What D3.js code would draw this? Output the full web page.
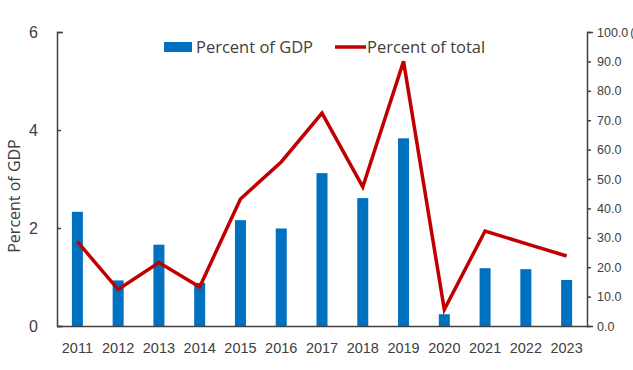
<!DOCTYPE html>
<html>
<head>
<meta charset="utf-8">
<script src="https://cdn.jsdelivr.net/npm/d3@7"></script>
<style>
  body { margin: 0; background: #fff; }
  svg { font-family: "Open Sans", "Noto Sans", sans-serif; }
  .axis path, .axis line { stroke: #404040; stroke-width: 1.5; }
  .axis text { fill: #404040; }
</style>
</head>
<body>
<svg id="chart" width="633" height="370"></svg>
<script>
// data
var years = ["2011","2012","2013","2014","2015","2016","2017","2018","2019","2020","2021","2022","2023"];
var pctGdp = [2.33, 0.93, 1.66, 0.88, 2.16, 1.99, 3.12, 2.61, 3.83, 0.24, 1.18, 1.16, 0.94];
var pctTotal = [28.7, 12.4, 21.6, 13.3, 43.2, 55.8, 72.4, 47.3, 90.0, 5.6, 32.3, 28.0, 23.8];
var leftTicks = [0, 2, 4, 6];
var rightTicks = [0, 10, 20, 30, 40, 50, 60, 70, 80, 90, 100];

var margin = {top: 32, right: 46, bottom: 44, left: 57},
    width = 633 - margin.left - margin.right,
    height = 370 - margin.top - margin.bottom;

var svg = d3.select('#chart');
var g = svg.append('g')
    .attr('transform', 'translate(' + margin.left + ',' + margin.top + ')');

var x = d3.scaleBand().domain(years).range([0, width]).paddingInner(0.73).paddingOuter(0.365),
    y = d3.scaleLinear().domain([0, 6]).range([height, 0]),
    y2 = d3.scaleLinear().domain([0, 100]).range([height, 0]);

// bars
g.selectAll('.bar')
    .data(years)
  .enter().append('rect')
    .attr('class', 'bar')
    .attr('x', function(d) { return x(d); })
    .attr('y', function(d, i) { return y(pctGdp[i]); })
    .attr('width', x.bandwidth())
    .attr('height', function(d, i) { return height - y(pctGdp[i]); })
    .attr('fill', '#0070c0');

// line
var line = d3.line()
    .x(function(d, i) { return x(years[i]) + x.bandwidth() / 2; })
    .y(function(d) { return y2(d); });

g.append('path')
    .datum(pctTotal)
    .attr('d', line)
    .attr('fill', 'none')
    .attr('stroke', '#c00000')
    .attr('stroke-width', 3.5)
    .attr('stroke-linejoin', 'miter');

// left axis (ticks inside)
var yAxis = g.append('g')
    .attr('class', 'axis')
    .call(d3.axisRight(y).tickValues(leftTicks).tickSize(4).tickSizeOuter(6).tickFormat(d3.format('d')));
yAxis.selectAll('text')
    .attr('x', -19)
    .attr('text-anchor', 'end')
    .style('font-size', '16px');

// right axis
var y2Axis = g.append('g')
    .attr('class', 'axis')
    .attr('transform', 'translate(' + width + ',0)')
    .call(d3.axisRight(y2).tickValues(rightTicks).tickSize(4).tickSizeOuter(6).tickFormat(d3.format('.1f')));
y2Axis.selectAll('text')
    .attr('x', 10)
    .style('font-size', '12.5px');

// clipped start of the right axis title, as in the source
svg.append('text')
    .attr('x', 630.5).attr('y', 36.5)
    .attr('fill', '#404040')
    .style('font-size', '12.5px')
    .text('(');

// x axis (no ticks)
var xAxis = g.append('g')
    .attr('class', 'axis')
    .attr('transform', 'translate(0,' + height + ')')
    .call(d3.axisBottom(x).tickSize(0).tickSizeOuter(0));
xAxis.selectAll('text')
    .attr('dy', '0.71em')
    .attr('y', 17)
    .style('font-size', '14.5px');

// axis title
svg.append('text')
    .attr('transform', 'translate(20,196) rotate(-90)')
    .attr('text-anchor', 'middle')
    .attr('fill', '#404040')
    .style('font-size', '16px')
    .text('Percent of GDP');

// legend
var legend = svg.append('g');
legend.append('rect')
    .attr('x', 164).attr('y', 42).attr('width', 28).attr('height', 10)
    .attr('fill', '#0070c0');
legend.append('text')
    .attr('x', 196).attr('y', 53)
    .attr('fill', '#404040')
    .style('font-size', '16.5px')
    .text('Percent of GDP');
legend.append('line')
    .attr('x1', 335).attr('x2', 366).attr('y1', 47).attr('y2', 47)
    .attr('stroke', '#c00000').attr('stroke-width', 3.5);
legend.append('text')
    .attr('x', 367).attr('y', 53)
    .attr('fill', '#404040')
    .style('font-size', '16.5px')
    .text('Percent of total');
</script>
</body>
</html>
